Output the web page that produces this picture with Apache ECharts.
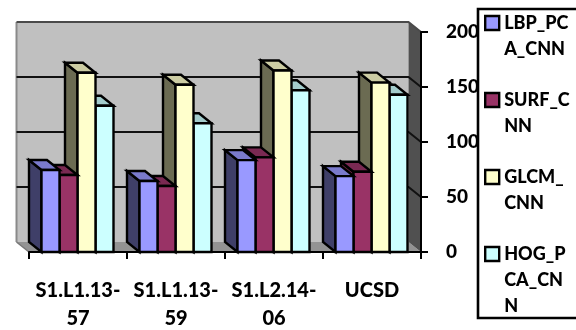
<!DOCTYPE html>
<html>
<head>
<meta charset="utf-8">
<style>html,body{margin:0;padding:0;background:#fff}#chart{width:576px;height:330px}</style>
<script src="https://cdn.jsdelivr.net/npm/echarts@6/dist/echarts.min.js"></script>
</head>
<body>
<div id="chart"></div>
<script>
// Pseudo-3D clustered columns for four recording sequences.
const categories = ['S1.L1.13-57', 'S1.L1.13-59', 'S1.L2.14-06', 'UCSD'];
const lbpPcaCnn = [74.5, 64.5, 83.5, 69];
const surfCnn = [70, 60, 86, 73];
const glcmCnn = [163, 152, 165, 154];
const hogPcaCnn = [133, 117, 147, 143];
const yTicks = [0, 50, 100, 150, 200];
const seriesNames = ['LBP_PCA_CNN', 'SURF_CNN', 'GLCM_CNN', 'HOG_PCA_CNN'];
const legendLines = {
  LBP_PCA_CNN: ['LBP_PC', 'A_CNN'],
  SURF_CNN: ['SURF_C', 'NN'],
  GLCM_CNN: ['GLCM_', 'CNN'],
  HOG_PCA_CNN: ['HOG_P', 'CA_CN', 'N']
};

// Face colours per series: front, side, top.
const faces = [
  ['#9999ff', '#3f3f68', '#7a7acc'],
  ['#993366', '#66223f', '#7a2952'],
  ['#ffffcc', '#6b6b52', '#cccca3'],
  ['#ccffff', '#526666', '#a3cccc']
];
const DX = 12.5, DY = 10, BAR_W = 18, BAND_PAD = 12.5;
const FONT = 'Lato, "Open Sans", sans-serif';

function poly(points, fill, stroke, lw) {
  return {
    type: 'polygon',
    shape: { points },
    style: { fill, stroke: stroke || 'none', lineWidth: lw || 0, lineJoin: 'miter' }
  };
}

// Back wall, floor and right wall of the plot box, with wrapped gridlines.
function renderRoom(params, api) {
  const c = params.coordSys;
  const l = c.x, r = c.x + c.width, t = c.y, b = c.y + c.height;
  const children = [
    poly([[l - DX, t - DY], [r - DX, t - DY], [r - DX, b - DY], [l - DX, b - DY]], '#c0c0c0'),
    poly([[l - DX, b - DY], [r - DX, b - DY], [r, b], [l, b]], '#939393'),
    poly([[r - DX, t - DY], [r, t], [r, b], [r - DX, b - DY]], '#505050'),
    { type: 'line', shape: { x1: l - DX, y1: t - DY, x2: l - DX, y2: b - DY }, style: { stroke: '#8a8a8a', lineWidth: 2 } },
    { type: 'line', shape: { x1: l - DX, y1: b - DY, x2: l, y2: b }, style: { stroke: '#777', lineWidth: 1.5 } }
  ];
  yTicks.forEach(function (v) {
    if (v === 0) return;
    const y = api.coord([0, v])[1];
    children.push({
      type: 'polyline',
      shape: { points: [[l - DX, y - DY], [r - DX, y - DY], [r, y]] },
      style: { fill: 'none', stroke: v === 200 ? '#4a4a4a' : '#111', lineWidth: 2 }
    });
  });
  return { type: 'group', children };
}

// One extruded column: side and top faces sit up and to the left of the front.
function renderColumn(seriesIndex) {
  return function (params, api) {
    const band = api.size([1, 0])[0];
    const base = api.coord([api.value(0), 0]);
    const top = api.coord([api.value(0), api.value(1)]);
    const x0 = base[0] - band / 2 + BAND_PAD + seriesIndex * BAR_W;
    const x1 = x0 + BAR_W;
    const f = faces[seriesIndex];
    const stroke = '#000';
    return {
      type: 'group',
      children: [
        poly([[x0 - DX, top[1] - DY], [x0, top[1]], [x0, base[1]], [x0 - DX, base[1] - DY]], f[1], stroke, 2.4),
        poly([[x0 - DX, top[1] - DY], [x1 - DX, top[1] - DY], [x1, top[1]], [x0, top[1]]], f[2], stroke, 2.4),
        poly([[x0, top[1]], [x1, top[1]], [x1, base[1]], [x0, base[1]]], f[0], stroke, 2.4)
      ]
    };
  };
}

const values = [lbpPcaCnn, surfCnn, glcmCnn, hogPcaCnn];
const columnSeries = seriesNames.map(function (name, i) {
  return {
    type: 'custom',
    name,
    // Left-hand columns paint last so they cover their neighbours' side faces.
    z: 10 - i,
    clip: false,
    itemStyle: { color: faces[i][0] },
    renderItem: renderColumn(i),
    encode: { x: 0, y: 1 },
    data: values[i].map(function (v, k) { return [k, v]; })
  };
});

const chart = echarts.init(document.getElementById('chart'), null, { renderer: 'canvas' });
chart.setOption({
  animation: false,
  backgroundColor: '#ffffff',
  grid: { left: 29, right: 155, top: 32, bottom: 78, outerBoundsMode: 'none' },
  xAxis: {
    type: 'category',
    data: categories,
    z: 20,
    axisLine: { show: true, lineStyle: { color: '#000', width: 2 } },
    axisTick: { show: true, length: 7, lineStyle: { color: '#000', width: 2 } },
    axisLabel: {
      interval: 0,
      margin: 25,
      color: '#000',
      fontFamily: FONT,
      fontWeight: 900,
      fontSize: 20,
      lineHeight: 28,
      formatter: function (s) { return s.replace('-', '-\n'); }
    }
  },
  yAxis: {
    type: 'value',
    position: 'right',
    min: 0,
    max: 200,
    interval: 50,
    z: 20,
    splitLine: { show: false },
    axisLine: { show: true, lineStyle: { color: '#000', width: 2 } },
    axisTick: { show: true, length: 7, lineStyle: { color: '#000', width: 2 } },
    axisLabel: {
      margin: 25,
      color: '#000',
      fontFamily: FONT,
      fontWeight: 900,
      fontSize: 19
    }
  },
  legend: {
    orient: 'vertical',
    left: 484,
    top: -42,
    padding: 0,
    itemGap: -53,
    itemWidth: 14,
    itemHeight: 14,
    icon: 'rect',
    selectedMode: false,
    data: seriesNames,
    itemStyle: { borderColor: '#000', borderWidth: 2.4 },
    textStyle: {
      color: '#000',
      fontFamily: FONT,
      fontWeight: 900,
      fontSize: 18,
      lineHeight: 26
    },
    // Blank padding lines keep each swatch level with the first text line.
    formatter: function (name) {
      const lines = legendLines[name].slice();
      const out = ['', ''].concat(lines);
      while (out.length < 5) out.push('');
      return out.join('\n');
    }
  },
  graphic: [{
    type: 'rect',
    z: -1,
    silent: true,
    shape: { x: 478, y: 9, width: 120, height: 309 },
    style: { fill: '#fff', stroke: '#000', lineWidth: 2.6 }
  }],
  series: [{
    type: 'custom',
    name: 'room',
    z: 1,
    clip: false,
    silent: true,
    renderItem: renderRoom,
    encode: { x: 0, y: 1 },
    data: [[0, 0]]
  }].concat(columnSeries)
});
</script>
</body>
</html>
